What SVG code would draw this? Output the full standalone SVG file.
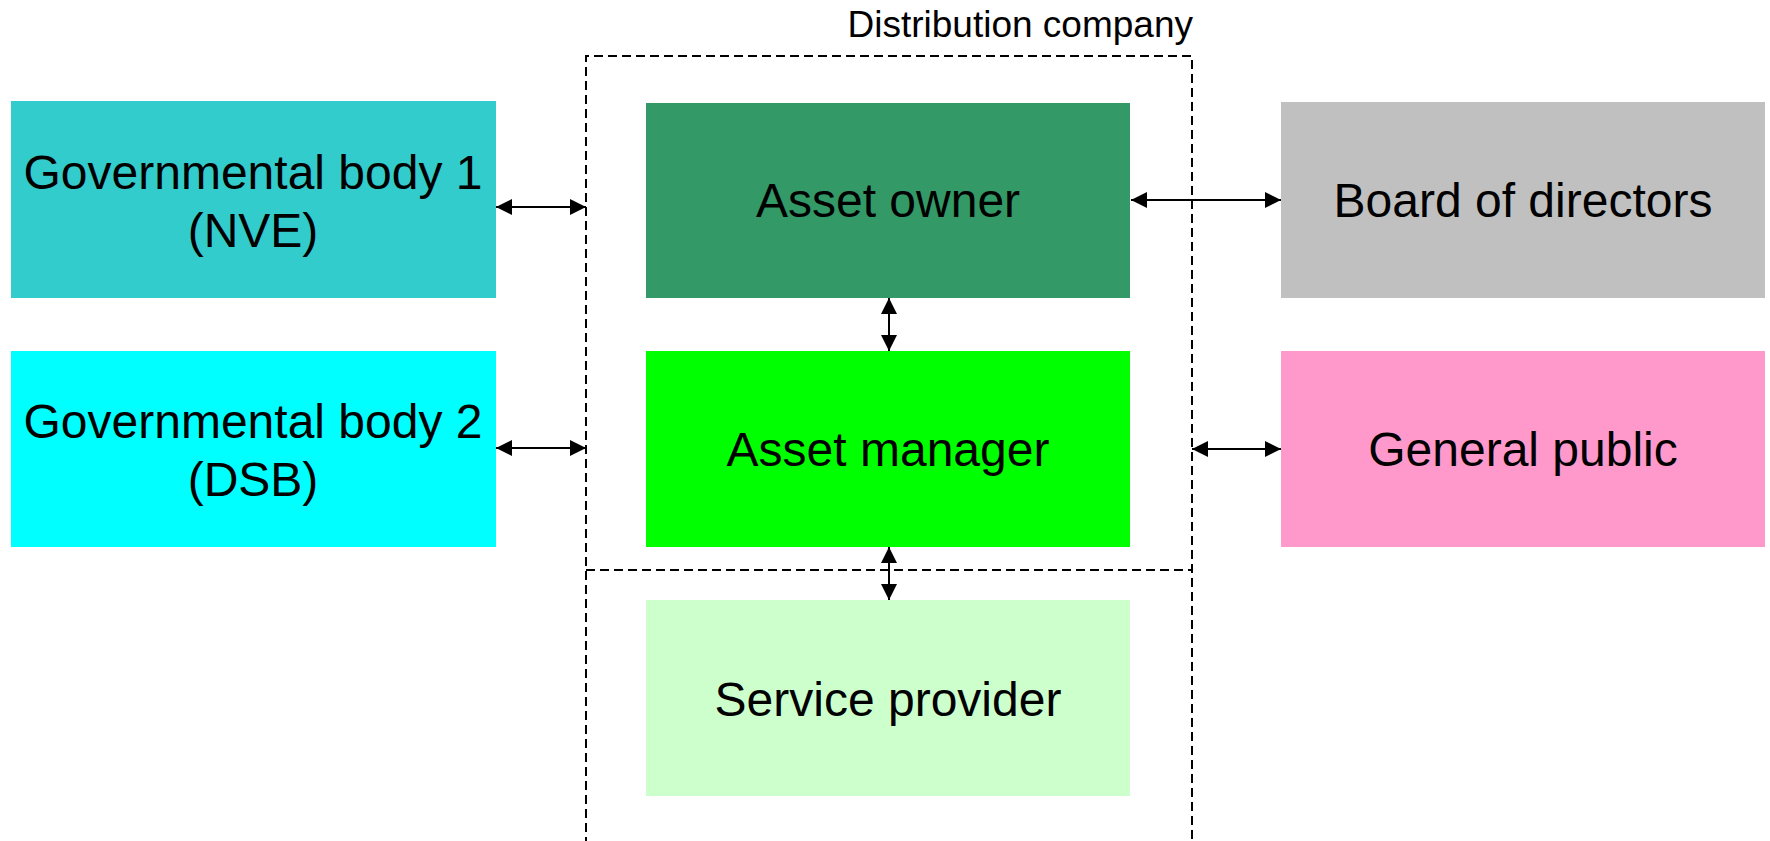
<svg xmlns="http://www.w3.org/2000/svg" width="1770" height="841" viewBox="0 0 1770 841">
  <style>
    .label { font-family: "Liberation Sans", Arial, sans-serif; font-size: 48px; fill: #000; text-anchor: middle; }
    .title { font-family: "Liberation Sans", Arial, sans-serif; font-size: 37px; fill: #000; text-anchor: end; }
    .frame { fill: none; stroke: #000; stroke-width: 2; stroke-dasharray: 9 5; }
    .link { stroke: #000; stroke-width: 2; fill: none; marker-start: url(#head); marker-end: url(#head); }
  </style>
  <defs>
    <marker id="head" viewBox="0 0 16 16" refX="16" refY="8" markerWidth="16" markerHeight="16" markerUnits="userSpaceOnUse" orient="auto-start-reverse">
      <path d="M0,0 L16,8 L0,16 z" fill="#000"/>
    </marker>
  </defs>
  <rect width="1770" height="841" fill="#fff"/>

  <!-- company boundary -->
  <g id="distribution-company">
    <path class="frame" d="M586,860 L586,56 L1192,56 L1192,860"/>
    <line class="frame" x1="586" y1="570" x2="1192" y2="570"/>
    <text class="title" x="1193" y="37">Distribution company</text>
  </g>

  <g id="gov1">
    <rect x="11" y="101" width="485" height="197" fill="#33CCCC"/>
    <text class="label" x="253" y="189">Governmental body 1</text>
    <text class="label" x="253" y="247">(NVE)</text>
  </g>

  <g id="gov2">
    <rect x="11" y="351" width="485" height="196" fill="#00FFFF"/>
    <text class="label" x="253" y="438">Governmental body 2</text>
    <text class="label" x="253" y="496">(DSB)</text>
  </g>

  <g id="asset-owner">
    <rect x="646" y="103" width="484" height="195" fill="#339966"/>
    <text class="label" x="888" y="217">Asset owner</text>
  </g>

  <g id="asset-manager">
    <rect x="646" y="351" width="484" height="196" fill="#00FF00"/>
    <text class="label" x="888" y="466">Asset manager</text>
  </g>

  <g id="service-provider">
    <rect x="646" y="600" width="484" height="196" fill="#CCFFCC"/>
    <text class="label" x="888" y="716">Service provider</text>
  </g>

  <g id="board">
    <rect x="1281" y="102" width="484" height="196" fill="#C0C0C0"/>
    <text class="label" x="1523" y="217">Board of directors</text>
  </g>

  <g id="general-public">
    <rect x="1281" y="351" width="484" height="196" fill="#FF99CC"/>
    <text class="label" x="1523" y="466">General public</text>
  </g>

  <g id="connectors">
    <line class="link" x1="496" y1="207" x2="586" y2="207"/>
    <line class="link" x1="496" y1="448" x2="586" y2="448"/>
    <line class="link" x1="1131" y1="200" x2="1281" y2="200"/>
    <line class="link" x1="1192" y1="449" x2="1281" y2="449"/>
    <line class="link" x1="889" y1="298" x2="889" y2="351"/>
    <line class="link" x1="889" y1="547" x2="889" y2="600"/>
  </g>
</svg>
